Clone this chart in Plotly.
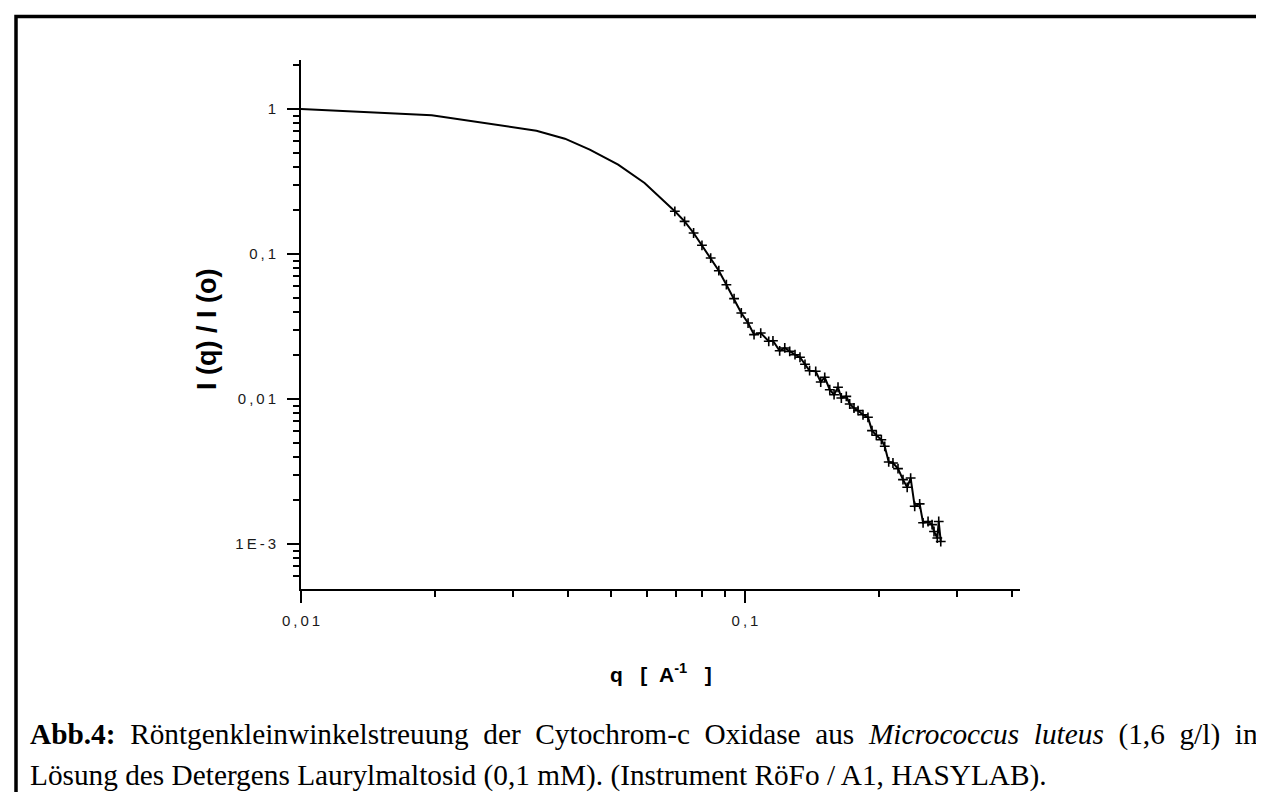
import plotly.graph_objects as go

# ---- data ----
q_fit = [0.0100, 0.0197, 0.0339, 0.0393, 0.0447, 0.0518, 0.0594]
I_fit = [1.000, 0.905, 0.708, 0.624, 0.524, 0.413, 0.309]

q_data = [0.0695, 0.0731, 0.0766, 0.0800, 0.0837, 0.0873, 0.0908, 0.0945, 0.0981, 0.1016,
          0.1048, 0.1085, 0.1131, 0.1156, 0.1197, 0.1229, 0.1261, 0.1296, 0.1330, 0.1365,
          0.1398, 0.1443, 0.1481, 0.1512, 0.1552, 0.1587, 0.1620, 0.1648, 0.1691, 0.1721,
          0.1760, 0.1797, 0.1844, 0.1892, 0.1932, 0.1976, 0.2028, 0.2064, 0.2107, 0.2154,
          0.2211, 0.2269, 0.2319, 0.2361, 0.2411, 0.2474, 0.2518, 0.2584, 0.2638, 0.2665,
          0.2711, 0.2731, 0.2760]
I_data = [0.197, 0.168, 0.1396, 0.1148, 0.0938, 0.0767, 0.0614, 0.0492, 0.0392, 0.0334,
          0.0278, 0.0285, 0.0250, 0.0252, 0.0215, 0.0225, 0.0213, 0.0202, 0.0194, 0.01735,
          0.01567, 0.01552, 0.01310, 0.01411, 0.01159, 0.01071, 0.01205, 0.01016, 0.01043, 0.00924,
          0.00867, 0.00831, 0.00779, 0.00748, 0.00605, 0.00562, 0.00524, 0.00472, 0.00368, 0.00362,
          0.00331, 0.00278, 0.00246, 0.00285, 0.00182, 0.00189, 0.00140, 0.00143, 0.00136, 0.00122,
          0.00110, 0.00143, 0.00104]

x_major = [0.01, 0.1]
x_major_text = ["0,01", "0,1"]
x_minor = [0.02, 0.03, 0.04, 0.05, 0.06, 0.07, 0.08, 0.09, 0.2, 0.3, 0.4]
y_major = [1, 0.1, 0.01, 0.001]
y_major_text = ["1", "0,1", "0,01", "1E-3"]
y_minor = [6e-4, 7e-4, 8e-4, 9e-4,
           2e-3, 3e-3, 4e-3, 5e-3, 6e-3, 7e-3, 8e-3, 9e-3,
           0.02, 0.03, 0.04, 0.05, 0.06, 0.07, 0.08, 0.09,
           0.2, 0.3, 0.4, 0.5, 0.6, 0.7, 0.8, 0.9, 2]

caption_1 = ["<b>Abb.4:</b>", "Röntgenkleinwinkelstreuung", "der", "Cytochrom-c", "Oxidase", "aus",
             "<i>Micrococcus</i>", "<i>luteus</i>", "(1,6", "g/l)", "in"]
caption_2 = "Lösung des Detergens Laurylmaltosid (0,1 mM). (Instrument RöFo / A1, HASYLAB)."

# ---- layout geometry (pixels) ----
W, H = 1264, 792
L, R, T, B = 293, 1012, 52, 581


def px(xp):
    return (xp - L) / (R - L)


def py(yp):
    return (B - yp) / (B - T)


def spaced(s):
    return "\u2009".join(list(s))


NB = "\u00a0"

fig = go.Figure()
fig.add_trace(go.Scatter(
    x=q_fit + q_data[:1], y=I_fit + I_data[:1], mode="lines",
    line=dict(color="black", width=2), showlegend=False, hoverinfo="skip"))
fig.add_trace(go.Scatter(
    x=q_data, y=I_data, mode="lines+markers",
    line=dict(color="black", width=2),
    marker=dict(symbol="cross-thin", size=7, line=dict(color="black", width=1.6)),
    showlegend=False))

tickfont = dict(family="Liberation Sans, Arial", size=15, color="#1a1a1a")

fig.update_xaxes(
    type="log", range=[-2, -2 + (R - L) / 444.0],
    showline=True, linecolor="black", linewidth=2, mirror=False,
    showgrid=False, zeroline=False,
    ticks="outside", ticklen=12, tickwidth=1.6, tickcolor="black",
    tickvals=x_major, ticktext=[spaced(t) for t in x_major_text],
    tickfont=tickfont, ticklabelstandoff=5,
    minor=dict(ticks="outside", ticklen=6, tickwidth=1.6, tickcolor="black",
               tickvals=x_minor, showgrid=False),
)
fig.update_yaxes(
    type="log", range=[(101 - B) / 145.0, (101 - T) / 145.0],
    showline=True, linecolor="black", linewidth=2, mirror=False,
    showgrid=False, zeroline=False,
    ticks="outside", ticklen=12, tickwidth=1.6, tickcolor="black",
    tickvals=y_major, ticktext=[spaced(t) for t in y_major_text],
    tickfont=tickfont, ticklabelstandoff=8,
    minor=dict(ticks="outside", ticklen=6, tickwidth=1.6, tickcolor="black",
               tickvals=y_minor, showgrid=False),
)

xtitle = "<b>q" + NB * 3 + "[" + NB * 2 + "A<sup>-1</sup>" + NB * 3 + "]</b>"

annotations = [
    dict(text="<b>I (q) / I (o)</b>", textangle=-90, x=px(199), y=py(322),
         xref="paper", yref="paper", showarrow=False, xanchor="center", yanchor="middle",
         font=dict(family="Liberation Sans, Arial", size=27, color="black")),
    dict(text=xtitle, x=0.5, y=py(665),
         xref="paper", yref="paper", showarrow=False, xanchor="center", yanchor="middle",
         font=dict(family="Liberation Sans, Arial", size=21, color="black")),
    dict(text=(NB * 2).join(caption_1), x=px(20), y=py(726),
         xref="paper", yref="paper", showarrow=False, xanchor="left", yanchor="middle",
         font=dict(family="Liberation Serif, Times New Roman", size=29.3, color="black")),
    dict(text=caption_2, x=px(20), y=py(767),
         xref="paper", yref="paper", showarrow=False, xanchor="left", yanchor="middle",
         font=dict(family="Liberation Serif, Times New Roman", size=29.3, color="black")),
]

shapes = [
    dict(type="rect", xref="paper", yref="paper",
         x0=px(8), x1=px(1258.5), y0=py(840), y1=py(8.5),
         line=dict(color="black", width=3.5), fillcolor="rgba(0,0,0,0)", layer="above"),
]

fig.update_layout(
    width=W, height=H, autosize=False,
    margin=dict(l=L, r=W - R, t=T, b=H - B, pad=0),
    paper_bgcolor="white", plot_bgcolor="white",
    annotations=annotations, shapes=shapes,
    showlegend=False,
)

fig.write_html("out.html")
